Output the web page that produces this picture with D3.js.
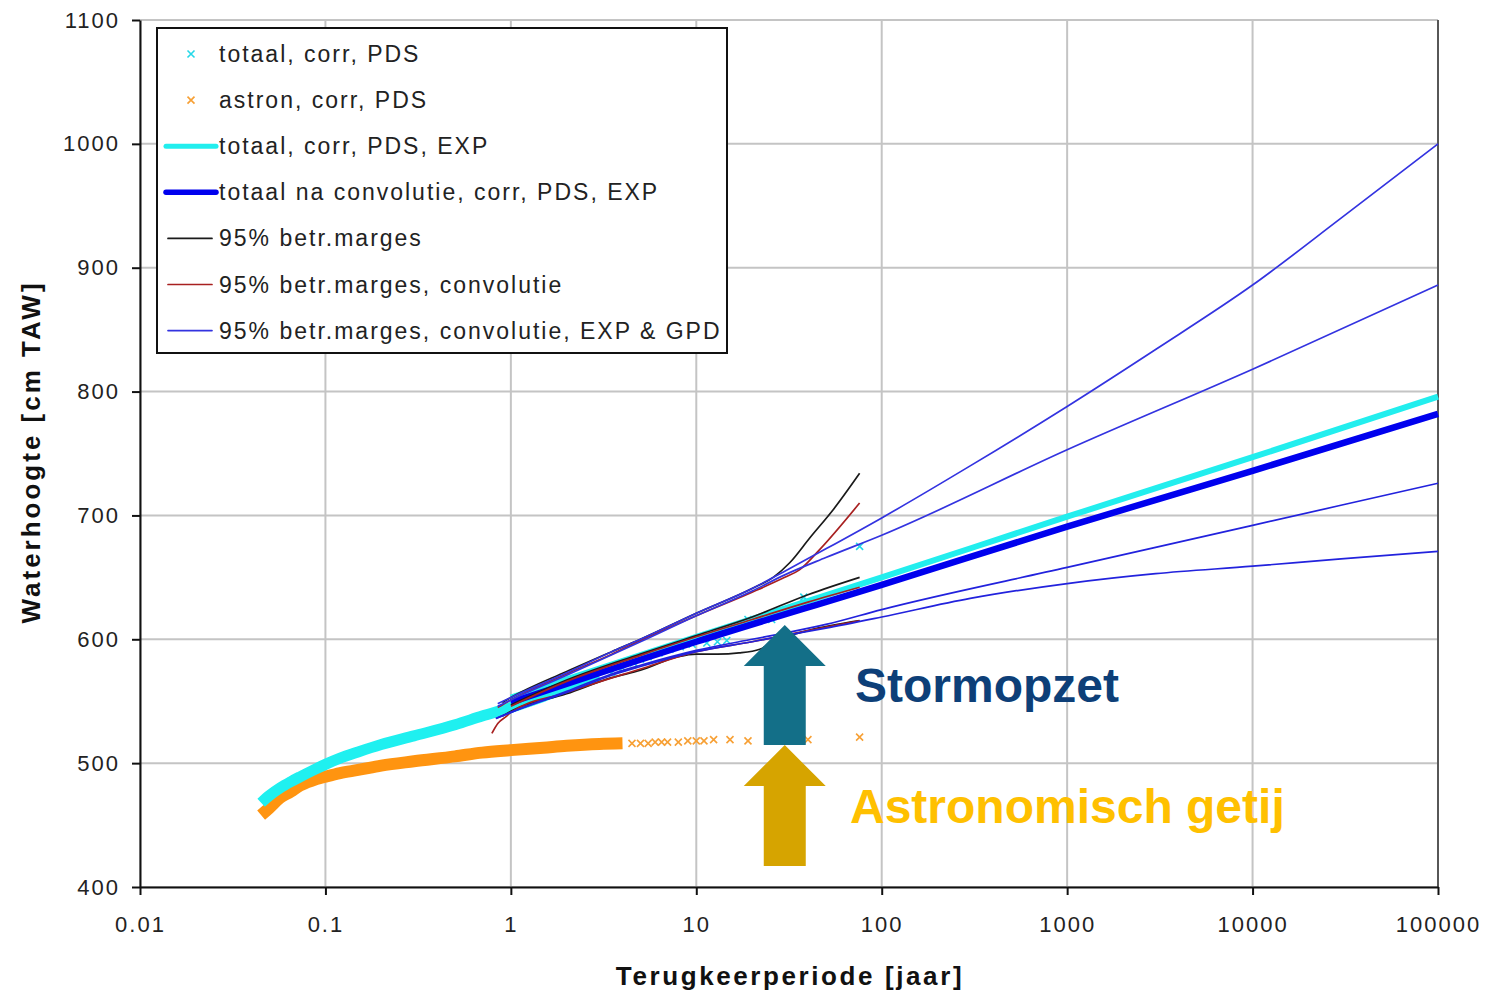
<!DOCTYPE html>
<html>
<head>
<meta charset="utf-8">
<script src="https://cdn.jsdelivr.net/npm/d3@7"></script>
<style>
  body { margin: 0; background: #fff; }
  text { font-family: 'Liberation Sans', Arial, sans-serif; }
</style>
</head>
<body>
<script>
// tick values
const xTicks = [0.01, 0.1, 1, 10, 100, 1000, 10000, 100000]
const yTicks = [400, 500, 600, 700, 800, 900, 1000, 1100]

// [terugkeerperiode (jaar), waterhoogte (cm TAW)]
const totaalBand = [[0.045, 468], [0.05, 474], [0.057, 480], [0.065, 485], [0.073, 489], [0.085, 494], [0.1, 499],
  [0.12, 504], [0.15, 509], [0.2, 515], [0.3, 522], [0.5, 531], [0.7, 538], [1, 545], [1.5, 554], [2, 561], [3, 570]]
const totaalSparse = [[3.5, 573], [4, 577], [4.6, 581], [5, 584], [5.5, 586], [6.3, 589], [7.2, 592], [8.2, 594],
  [9.5, 596], [11.4, 597], [13, 598], [14.6, 599], [19, 616], [25.5, 616], [38, 634], [76, 675]]
const astronBand = [[0.045, 458], [0.05, 464], [0.057, 472], [0.065, 477], [0.073, 482], [0.085, 486], [0.1, 489],
  [0.12, 492], [0.15, 494.5], [0.2, 498], [0.3, 501.5], [0.5, 505.5], [0.7, 508.5], [1, 510.5], [1.5, 512.5],
  [2, 514], [3, 515.5], [4, 516]]
const astronSparse = [[4.5, 516], [5, 516], [5.5, 516], [6, 517], [6.5, 517], [7, 517], [8, 517], [9, 518],
  [10, 518], [11, 518], [12.4, 519], [15.2, 519], [19, 518], [40, 519], [76, 521]]

const totaalExp = [[1, 553], [10, 602], [100, 650], [1000, 699], [10000, 747], [100000, 796]]
const convExp = [[1, 549], [10, 598], [100, 644], [1000, 691], [10000, 736], [100000, 782]]

const margesUpper = [[0.9, 549], [1, 553], [2, 574], [3.5, 590], [5, 600], [10, 621], [20, 641], [26, 650],
  [32, 662], [41, 682], [55, 705], [76, 734]]
const margesMid = [[1, 547], [2, 567], [5, 588], [10, 603], [20, 618], [40, 636], [76, 650]]
const margesLower = [[0.9, 538], [1, 542], [2, 556], [3.5, 569], [5, 575], [8, 586], [10, 588], [13, 588],
  [17, 589], [22, 592], [28, 600], [40, 607], [76, 615]]

const convUpper = [[0.85, 545], [1, 551], [2, 572], [3.5, 588], [5, 599], [10, 619], [20, 638], [30, 650],
  [36, 656], [46, 672], [76, 710]]
const convMid = [[1, 546], [2, 566], [5, 587], [10, 602], [20, 616], [40, 630], [76, 642]]
const convLower = [[0.79, 524], [0.85, 532], [0.95, 538], [1, 541], [2, 557], [5, 576], [10, 590], [20, 598],
  [40, 607], [76, 615]]

const gpdUpper = [[0.85, 548], [1, 553], [2, 573], [3.5, 590], [5, 600], [10, 621], [20, 641], [30, 655],
  [50, 673], [100, 698], [300, 740], [1000, 788], [3000, 834], [10000, 886], [30000, 940], [100000, 1000]]
const expUpper = [[0.85, 546], [1, 551], [2, 571], [5, 598], [10, 619], [20, 639], [30, 652], [50, 666],
  [100, 684], [1000, 753], [10000, 818], [100000, 886]]
const expLower = [[0.83, 536], [1, 541], [2, 558], [3.5, 572], [5, 579], [10, 591], [20, 600], [30, 605],
  [50, 612], [100, 624], [1000, 658], [10000, 692], [100000, 726]]
const gpdLower = [[0.83, 536], [1, 541], [2, 557], [3.5, 571], [5, 578], [10, 590], [20, 598], [30, 603],
  [50, 609], [100, 618], [300, 633], [1000, 645], [3000, 653], [10000, 659], [30000, 665], [100000, 671]]

const legendLabels = ['totaal, corr, PDS', 'astron, corr, PDS', 'totaal, corr, PDS, EXP',
  'totaal na convolutie, corr, PDS, EXP', '95% betr.marges', '95% betr.marges, convolutie',
  '95% betr.marges, convolutie, EXP & GPD']

// annotation arrows: [return period, from level, to level]
const arrowStorm = [30, 514.6, 611.5]
const arrowTide = [30, 417, 514.6]

const W = 1490, H = 993
const svg = d3.select('body').append('svg')
  .attr('width', W)
  .attr('height', H)

const xScale = d3.scaleLog().domain([0.01, 100000]).range([140, 1438])
const yScale = d3.scaleLinear().domain([400, 1100]).range([887, 20])

const grid = svg.append('g').attr('class', 'grid')
grid.selectAll('.vgrid').data(xTicks).enter().append('line')
  .attr('x1', d => xScale(d)).attr('x2', d => xScale(d))
  .attr('y1', yScale(1100)).attr('y2', yScale(400))
  .style('stroke', '#c4c4c4').style('stroke-width', 2)
grid.selectAll('.hgrid').data(yTicks).enter().append('line')
  .attr('x1', xScale(0.01)).attr('x2', xScale(100000))
  .attr('y1', d => yScale(d)).attr('y2', d => yScale(d))
  .style('stroke', '#c4c4c4').style('stroke-width', 2)

// right border of plot area
svg.append('line')
  .attr('x1', xScale(100000)).attr('x2', xScale(100000))
  .attr('y1', yScale(1100)).attr('y2', yScale(400))
  .style('stroke', '#333').style('stroke-width', 1.5)

const line = d3.line()
  .x(d => xScale(d[0]))
  .y(d => yScale(d[1]))
  .curve(d3.curveMonotoneX)

const xMark = 'M-3.5,-3.5L3.5,3.5M3.5,-3.5L-3.5,3.5'

// scatter bands
svg.append('path').datum(astronBand)
  .attr('d', line)
  .style('fill', 'none').style('stroke', '#ff9410').style('stroke-width', 12)
  .style('stroke-linecap', 'butt')
svg.selectAll('.astron').data(astronSparse).enter().append('path')
  .attr('transform', d => `translate(${xScale(d[0])},${yScale(d[1])})`)
  .attr('d', xMark)
  .style('stroke', '#f7a035').style('stroke-width', 1.6).style('fill', 'none')

svg.append('path').datum(totaalBand)
  .attr('d', line)
  .style('fill', 'none').style('stroke', '#1ff0f0').style('stroke-width', 11)
  .style('stroke-linecap', 'butt')
svg.selectAll('.totaal').data(totaalSparse).enter().append('path')
  .attr('transform', d => `translate(${xScale(d[0])},${yScale(d[1])})`)
  .attr('d', xMark)
  .style('stroke', '#25d8e8').style('stroke-width', 1.6).style('fill', 'none')

// fitted lines
svg.append('path').datum(totaalExp).attr('d', line)
  .style('fill', 'none').style('stroke', '#22eeee').style('stroke-width', 6)
svg.append('path').datum(convExp).attr('d', line)
  .style('fill', 'none').style('stroke', '#0000ee').style('stroke-width', 6.5)

const thin = [
  { data: margesUpper, color: '#1a1a1a' },
  { data: margesMid, color: '#1a1a1a' },
  { data: margesLower, color: '#1a1a1a' },
  { data: convUpper, color: '#a82020' },
  { data: convMid, color: '#a82020' },
  { data: convLower, color: '#a82020' },
  { data: gpdUpper, color: '#3333e0' },
  { data: expUpper, color: '#3333e0' },
  { data: expLower, color: '#2222dd' },
  { data: gpdLower, color: '#2222dd' }
]
svg.selectAll('.thin').data(thin).enter().append('path')
  .attr('class', 'thin')
  .attr('d', d => line(d.data))
  .style('fill', 'none')
  .style('stroke', d => d.color)
  .style('stroke-width', 1.7)

// axes
const xAxis = svg.append('g')
  .attr('class', 'x axis')
  .attr('transform', `translate(0, ${yScale(400)})`)
  .call(d3.axisBottom(xScale).tickValues(xTicks).tickSize(8).tickSizeOuter(0)
    .tickFormat(d => d < 1 ? String(d) : d3.format('d')(d)))
const yAxis = svg.append('g')
  .attr('class', 'y axis')
  .attr('transform', `translate(${xScale(0.01)}, 0)`)
  .call(d3.axisLeft(yScale).tickValues(yTicks).tickSize(8).tickSizeOuter(0)
    .tickFormat(d3.format('d')))

svg.selectAll('.axis path, .axis line').style('stroke', '#111').style('stroke-width', 2)
svg.selectAll('.axis text')
  .style('font-size', '22px')
  .style('letter-spacing', '2px')
  .style('fill', '#222')
xAxis.selectAll('text').attr('dy', '1.55em')
yAxis.selectAll('text').attr('x', -20)

svg.append('text')
  .attr('x', 790).attr('y', 985)
  .style('text-anchor', 'middle')
  .style('font-weight', 'bold').style('font-size', '26px').style('letter-spacing', '2.6px')
  .style('fill', '#111')
  .text('Terugkeerperiode [jaar]')
svg.append('text')
  .attr('transform', 'translate(40, 452) rotate(-90)')
  .style('text-anchor', 'middle')
  .style('font-weight', 'bold').style('font-size', '26px').style('letter-spacing', '3px')
  .style('fill', '#111')
  .text('Waterhoogte [cm TAW]')

// legend
const legend = svg.append('g').attr('class', 'legend')
legend.append('rect')
  .attr('x', 157).attr('y', 28).attr('width', 570).attr('height', 325)
  .style('fill', '#fff').style('stroke', '#111').style('stroke-width', 2)
const rowY = i => 54 + i * 46.1
legend.selectAll('.ltext').data(legendLabels).enter().append('text')
  .attr('x', 219).attr('y', (d, i) => rowY(i) + 8)
  .style('font-size', '23px').style('letter-spacing', '2px').style('fill', '#222')
  .text(d => d)
legend.append('path').attr('transform', `translate(191,${rowY(0)})`).attr('d', xMark)
  .style('stroke', '#25d8e8').style('stroke-width', 1.6)
legend.append('path').attr('transform', `translate(191,${rowY(1)})`).attr('d', xMark)
  .style('stroke', '#f7a035').style('stroke-width', 1.6)
const legendLines = [
  { i: 2, color: '#22eeee', w: 5 },
  { i: 3, color: '#0000ee', w: 5.5 },
  { i: 4, color: '#1a1a1a', w: 1.7 },
  { i: 5, color: '#a82020', w: 1.7 },
  { i: 6, color: '#3333e0', w: 1.7 }
]
legend.selectAll('.lline').data(legendLines).enter().append('line')
  .attr('x1', d => d.w > 3 ? 166 : 168).attr('x2', d => d.w > 3 ? 216 : 212)
  .attr('y1', d => rowY(d.i)).attr('y2', d => rowY(d.i))
  .style('stroke', d => d.color).style('stroke-width', d => d.w)
  .style('stroke-linecap', 'round')

// arrows
function arrow (a, color) {
  const x = xScale(a[0])
  const yBase = yScale(a[1])
  const yTip = yScale(a[2])
  const headY = yTip + 41
  const pts = [[x, yTip], [x + 41, headY], [x + 21, headY], [x + 21, yBase], [x - 21, yBase],
    [x - 21, headY], [x - 41, headY]]
  svg.append('path')
    .attr('d', 'M' + pts.map(p => p.join(',')).join('L') + 'Z')
    .style('fill', color)
}
arrow(arrowTide, '#d6a400')
arrow(arrowStorm, '#136f88')

svg.append('text')
  .attr('x', 855).attr('y', 702)
  .style('font-weight', 'bold').style('font-size', '48px').style('fill', '#0d3f78')
  .text('Stormopzet')
svg.append('text')
  .attr('x', 850).attr('y', 823)
  .style('font-weight', 'bold').style('font-size', '48px').style('fill', '#ffc000')
  .text('Astronomisch getij')
</script>
</body>
</html>
